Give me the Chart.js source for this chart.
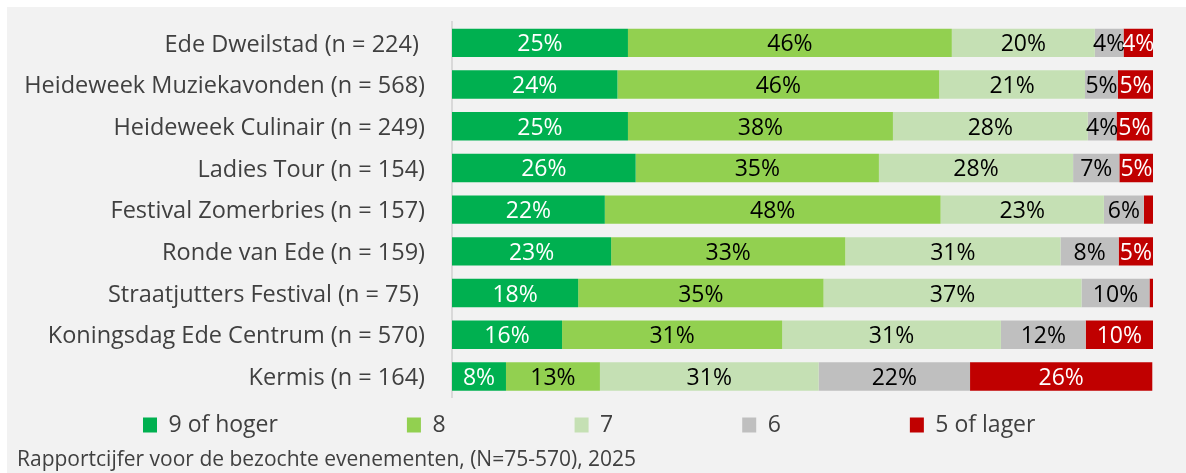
<!DOCTYPE html>
<html>
<head>
<meta charset="utf-8">
<script src="https://cdn.jsdelivr.net/npm/chart.js@4/dist/chart.umd.min.js"></script>
<style>
  html, body { margin: 0; padding: 0; background: #ffffff; }
  #wrap { position: absolute; left: 7px; top: 7px; width: 1179px; height: 466px; background: #f2f2f2; }
  canvas { display: block; }
</style>
</head>
<body>
<div id="wrap"><canvas id="c" width="1179" height="466"></canvas></div>
<script>
// ---- data (percentages) ----
const categories = [
  'Ede Dweilstad (n = 224) ',
  'Heideweek Muziekavonden (n = 568)',
  'Heideweek Culinair (n = 249)',
  'Ladies Tour (n = 154)',
  'Festival Zomerbries (n = 157)',
  'Ronde van Ede (n = 159)',
  'Straatjutters Festival (n = 75) ',
  'Koningsdag Ede Centrum (n = 570)',
  'Kermis (n = 164)'
];
const seriesNames = ['9 of hoger', '8', '7', '6', '5 of lager'];
const grade9plus = [25.1, 23.6, 25.1, 26.2, 21.8, 22.7, 18.0, 15.7, 7.7];
const grade8     = [46.2, 45.9, 37.8, 34.7, 47.9, 33.4, 35.0, 31.4, 13.4];
const grade7     = [20.4, 20.8, 27.8, 27.7, 23.3, 30.7, 36.8, 31.2, 31.2];
const grade6     = [4.1, 4.7, 4.1, 6.6, 5.7, 8.3, 9.7, 12.1, 21.6];
const grade5min  = [4.2, 5.0, 5.1, 4.9, 1.3, 4.9, 0.6, 9.6, 26.0];
const footerText = 'Rapportcijfer voor de bezochte evenementen, (N=75-570), 2025';

const colors = ['#00b050', '#92d050', '#c5e0b4', '#bfbfbf', '#c00000'];
const labelColors = ['#ffffff', '#000000', '#000000', '#000000', '#ffffff'];
const seriesData = [grade9plus, grade8, grade7, grade6, grade5min];

const LEGEND_PAD = 129;
const LEGEND_FONT = 23;

const barLabels = {
  id: 'barLabels',
  afterDatasetsDraw(chart) {
    const ctx = chart.ctx;
    ctx.save();
    ctx.font = '23px "Open Sans"';
    ctx.textAlign = 'center';
    ctx.textBaseline = 'middle';
    chart.data.datasets.forEach((ds, di) => {
      const meta = chart.getDatasetMeta(di);
      meta.data.forEach((bar, i) => {
        const v = ds.data[i];
        if (v < 2) return;
        const p = bar.getProps(['x', 'y', 'base'], true);
        ctx.fillStyle = labelColors[di];
        ctx.fillText(Math.round(v) + '%', (p.x + p.base) / 2, p.y + 2);
      });
    });
    ctx.restore();
  }
};

const legendPlacer = {
  id: 'legendPlacer',
  afterLayout(chart) {
    const lg = chart.legend;
    if (!lg) return;
    const p = LEGEND_PAD;
    lg.left = 136 - p;
    lg.right = chart.width + 600;
    lg.width = lg.right - lg.left;
    lg.top = 418 - LEGEND_FONT / 2 - p;
    lg.bottom = chart.height;
    lg.height = lg.bottom - lg.top;
  }
};

new Chart(document.getElementById('c'), {
  type: 'bar',
  data: {
    labels: categories,
    datasets: seriesData.map((d, i) => ({
      label: seriesNames[i],
      data: d,
      backgroundColor: colors[i],
      borderWidth: 0,
      categoryPercentage: 1,
      barPercentage: 0.68
    }))
  },
  options: {
    indexAxis: 'y',
    responsive: false,
    animation: false,
    layout: { padding: { top: 15, right: 33, left: 10, bottom: 0 } },
    scales: {
      x: {
        stacked: true, min: 0, max: 100, display: false
      },
      y: {
        stacked: true,
        grid: { display: false, drawTicks: false },
        border: { display: true, color: '#d9d9d9', width: 2 },
        ticks: { color: '#404040', font: { family: 'Open Sans', size: 23.5 }, padding: 27, labelOffset: 2 },
        afterFit(scale) {
          scale.width = 435;
          scale.paddingTop = 0;
          scale.paddingBottom = 0;
        }
      }
    },
    plugins: {
      tooltip: { enabled: false },
      legend: {
        position: 'bottom',
        align: 'start',
        maxHeight: 50.5,
        labels: {
          boxWidth: 14, boxHeight: 15, padding: LEGEND_PAD,
          color: '#404040', font: { family: 'Open Sans', size: LEGEND_FONT }
        }
      },
      title: {
        display: true, text: footerText, position: 'bottom', align: 'start',
        color: '#404040', font: { family: 'Open Sans', size: 21, weight: 'normal' },
        padding: { top: 0, bottom: 0 }
      }
    }
  },
  plugins: [barLabels, legendPlacer]
});
</script>
</body>
</html>
